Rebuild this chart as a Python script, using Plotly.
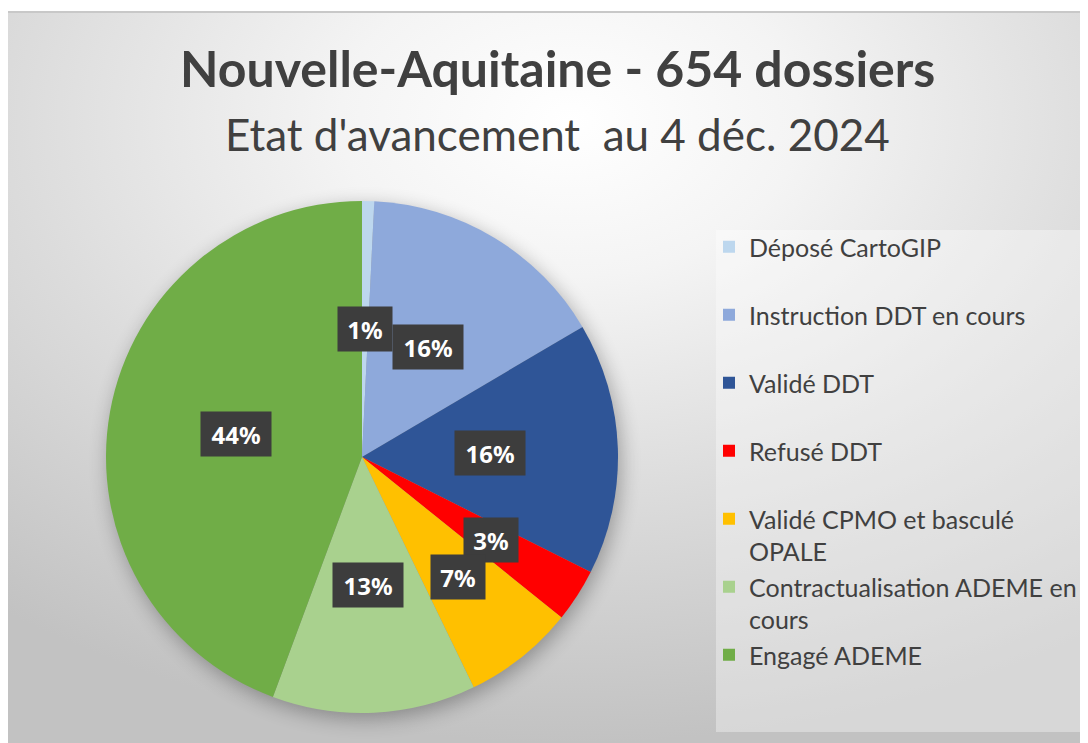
import base64
import math
import textwrap
import plotly.graph_objects as go

# ---------------- data ----------------
categories = [
    "Déposé CartoGIP",
    "Instruction DDT en cours",
    "Validé DDT",
    "Refusé DDT",
    "Validé CPMO et basculé OPALE",
    "Contractualisation ADEME en cours",
    "Engagé ADEME",
]
dossiers = [5, 103, 104, 22, 46, 84, 290]
colors = ["#BDD7EE", "#8EA9DB", "#2F5597", "#FF0000", "#FFC000", "#A9D18E", "#70AD47"]
title_text = "Nouvelle-Aquitaine - 654 dossiers"
subtitle_text = "Etat d'avancement  au 4 déc. 2024"

# ---------------- geometry / style (figure pixels) ----------------
W, H = 1080, 735
cx_px, cy_px, R_px = 354, 449, 256
font_main = "Lato"

total = sum(dossiers)
pct_text = [f"{round(v / total * 100)}%" for v in dossiers]


def legend_name(s):
    lines = textwrap.wrap(s, width=27)
    if len(lines) == 1:
        lines.append("\u00a0")
    return "<br>".join(lines)


legend_labels = [legend_name(c) for c in categories]

dom_x = [(cx_px - R_px) / W, (cx_px + R_px) / W]
dom_y = [1 - (cy_px + R_px) / H, 1 - (cy_px - R_px) / H]

fig = go.Figure(
    go.Pie(
        labels=legend_labels,
        values=dossiers,
        sort=False,
        direction="clockwise",
        rotation=0,
        marker=dict(colors=colors, line=dict(width=0)),
        textinfo="none",
        hovertemplate="%{label}<br>%{value} dossiers (%{percent})<extra></extra>",
        domain=dict(x=dom_x, y=dom_y),
    )
)

# data labels: dark boxes placed at mid-angle of each slice (computed from values)
annotations = []
cum = 0
for v, t in zip(dossiers, pct_text):
    frac = v / total
    mid = (cum + v / 2) / total * 2 * math.pi
    cum += v
    r = (0.6 if 0.02 < frac < 0.1 else 0.5) * R_px
    px = cx_px + r * math.sin(mid)
    py = cy_px - r * math.cos(mid)
    annotations.append(
        dict(
            x=px / W, y=1 - py / H, xref="paper", yref="paper",
            text=f"<b>{t}</b>", showarrow=False,
            font=dict(family="Noto Sans", size=24, color="white"),
            bgcolor="#3d3d3d", borderpad=7,
            width=16 * len(t) + 8, height=30,
            xanchor="center", yanchor="middle",
        )
    )

annotations.append(
    dict(x=549 / W, y=1 - 60 / H, xref="paper", yref="paper", showarrow=False,
         text=f"<b>{title_text}</b>",
         font=dict(family=font_main, size=50, color="#404040"),
         xanchor="center", yanchor="middle")
)
annotations.append(
    dict(x=549 / W, y=1 - 126 / H, xref="paper", yref="paper", showarrow=False,
         text=subtitle_text,
         font=dict(family=font_main, size=44, color="#404040"),
         xanchor="center", yanchor="middle")
)

# background: radial gradient + pie shadow
bx, by, bw, bh = 0, 3, W, H - 3
svg = f"""<svg xmlns='http://www.w3.org/2000/svg' width='{bw}' height='{bh}' viewBox='0 0 {bw} {bh}'>
<defs>
<radialGradient id='g' cx='0.52' cy='0.15' r='0.85'>
<stop offset='0' stop-color='#ffffff'/>
<stop offset='0.25' stop-color='#f4f4f4'/>
<stop offset='0.6' stop-color='#dcdcdc'/>
<stop offset='1' stop-color='#c2c2c2'/>
</radialGradient>
<filter id='b' x='-30%' y='-30%' width='160%' height='160%'><feGaussianBlur stdDeviation='10'/></filter>
</defs>
<rect x='0' y='0' width='{bw}' height='{bh}' fill='url(#g)'/>
<rect x='0' y='0' width='{bw}' height='2' fill='#c8c8c8'/>
<circle cx='{cx_px - bx + 3}' cy='{cy_px - by + 6}' r='{R_px}' fill='#000' opacity='0.3' filter='url(#b)'/>
</svg>"""
src = "data:image/svg+xml;base64," + base64.b64encode(svg.encode("utf-8")).decode()

fig.update_layout(
    width=W, height=H,
    margin=dict(l=0, r=0, t=0, b=0),
    paper_bgcolor="white",
    plot_bgcolor="rgba(0,0,0,0)",
    images=[dict(source=src, xref="paper", yref="paper", x=bx / W, y=1 - by / H,
                 sizex=bw / W, sizey=bh / H, xanchor="left", yanchor="top",
                 sizing="stretch", layer="below")],
    shapes=[dict(type="rect", xref="paper", yref="paper",
                 x0=708 / W, x1=1077 / W, y0=1 - 724 / H, y1=1 - 222 / H,
                 fillcolor="rgba(255,255,255,0.35)", line=dict(width=0), layer="below")],
    annotations=annotations,
    showlegend=True,
    legend=dict(x=701 / W, y=1 - 216 / H, xanchor="left", yanchor="top",
                bgcolor="rgba(0,0,0,0)", valign="top",
                font=dict(family=font_main, size=25, color="#404040"),
                itemclick=False, itemdoubleclick=False),
)

fig.write_html("out.html")
